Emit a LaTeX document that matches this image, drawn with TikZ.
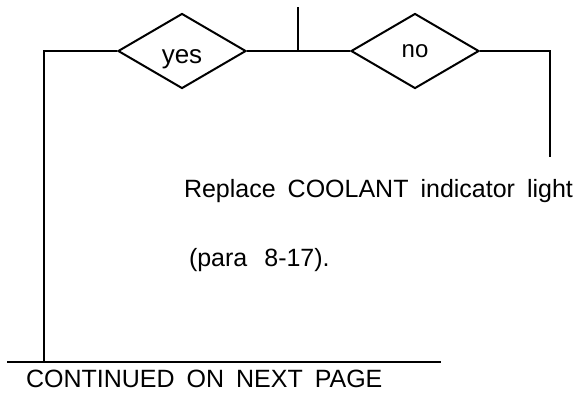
\documentclass[tikz,border=0pt]{standalone}
\usepackage{fontspec}
\setmainfont{Liberation Sans}
\usetikzlibrary{positioning,shapes.geometric}
\newcommand{\widewords}{\spaceskip 12pt\relax}

\begin{document}
\begin{tikzpicture}[
    x=1pt, y=-1pt,
    line width=2pt,
    choice/.style={diamond, draw, inner sep=0pt, aspect=1.7,
                   minimum width=128pt, minimum height=75pt,
                   text depth=0pt},
    note/.style={anchor=base west, inner sep=0pt,
                 font={\fontsize{25}{30}\selectfont\widewords}},
  ]
    \useasboundingbox (0,0) rectangle (577,392);

    \node[choice, text height=24pt, font=\fontsize{26}{30}\selectfont] (yes) at (182,51) {yes};
    \node[choice, text height=13pt, font=\fontsize{24}{28}\selectfont] (no) at (415,51) {no};

    \coordinate (top) at (298,7);
    \coordinate (join) at (298,51);
    \coordinate (leftend) at (44,362);
    \coordinate (rightend) at (550,157);
    \coordinate (barstart) at (7,362);
    \coordinate (barend) at (441,362);

    % Text
    \node[note] (action) at (183,197) {Replace COOLANT indicator light};
    \node[note] (para) at (188,266) {(para\hspace{17pt}8-17).};
    \node[note] (cont) at (25,387) {CONTINUED ON NEXT PAGE};

    % Lines
    \draw (top) -- (join);
    \draw (yes.east) -- (no.west);
    \draw (yes.west) -| (leftend);
    \draw (no.east) -| (rightend);
    \draw (barstart) -- (barend);
  \end{tikzpicture}
\end{document}
